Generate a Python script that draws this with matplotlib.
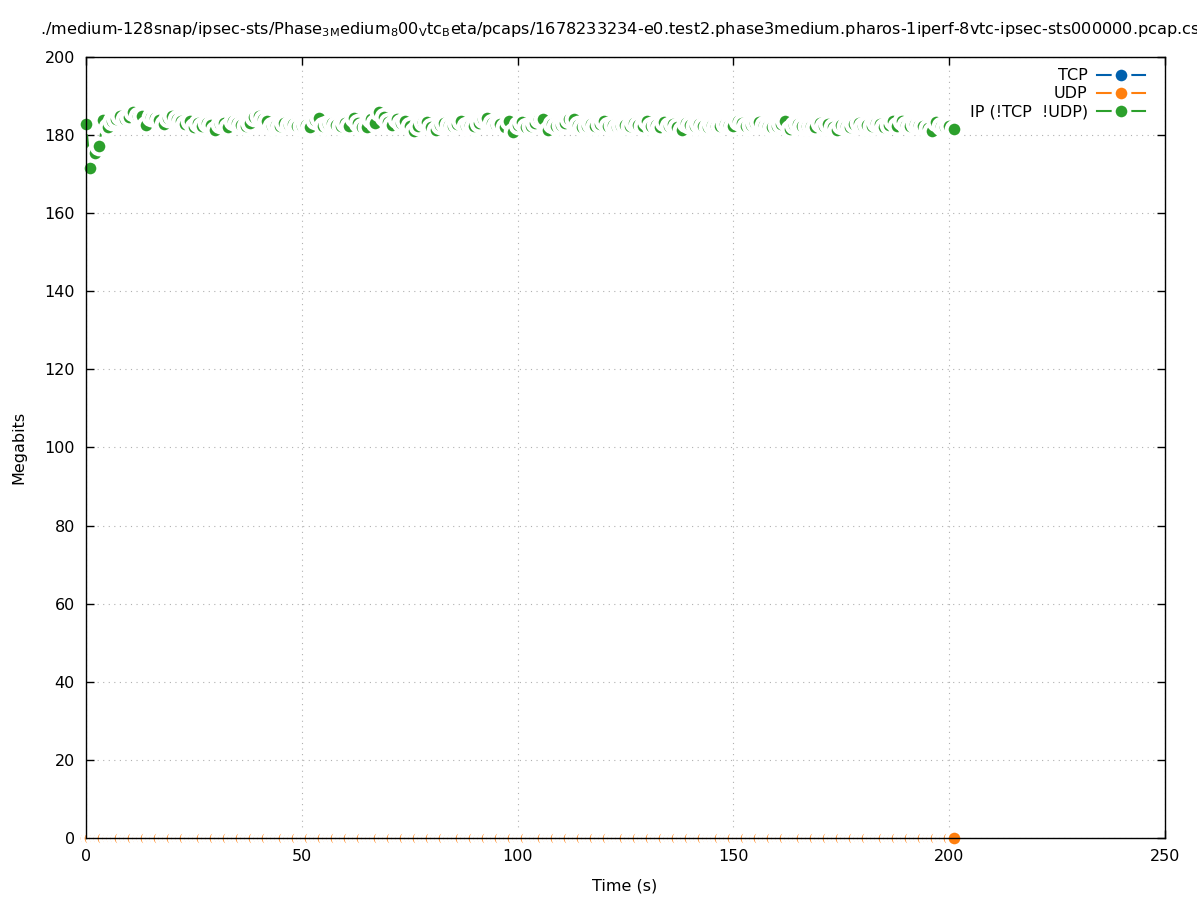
import numpy as np
import matplotlib
matplotlib.use("Agg")
import matplotlib.pyplot as plt
from matplotlib.lines import Line2D

# time in seconds, throughput per interval in Megabits
t = np.arange(0, 202)
ip = [
    182.8, 171.6, 175.4, 177.2, 183.8, 182.0, 183.5, 184.2, 185.0, 184.0,
    184.5, 186.0, 184.8, 185.0, 182.6, 184.6, 184.3, 183.9, 182.8, 184.4,
    185.0, 184.2, 183.6, 182.8, 183.6, 182.0, 183.2, 182.4, 183.0, 182.6,
    181.3, 182.9, 183.1, 182.0, 183.6, 183.2, 182.5, 182.3, 183.0, 184.6,
    185.0, 184.0, 183.6, 182.2, 182.5, 182.4, 183.0, 182.6, 182.8, 182.2,
    182.4, 182.7, 182.0, 183.8, 184.4, 182.2, 182.9, 183.1, 182.5, 182.3,
    183.0, 182.4, 184.4, 183.1, 182.1, 182.0, 184.0, 183.0, 186.0, 184.6,
    183.4, 182.6, 184.0, 183.2, 183.6, 182.4, 181.0, 182.2, 183.4, 183.3,
    182.0, 181.3, 182.6, 183.0, 182.5, 182.2, 182.9, 183.6, 182.4, 182.6,
    182.3, 183.0, 184.0, 184.4, 183.2, 182.5, 182.8, 182.0, 183.7, 180.8,
    182.6, 183.3, 182.0, 182.4, 183.0, 184.2, 184.0, 181.3, 182.8, 182.3,
    182.6, 183.0, 184.0, 184.2, 182.6, 182.0, 182.4, 182.8, 182.3, 182.9,
    183.5, 182.4, 182.6, 182.1, 182.4, 182.7, 182.2, 183.0, 182.5, 182.3,
    183.6, 182.2, 182.5, 182.0, 183.3, 182.4, 182.8, 182.0, 181.3, 183.0,
    182.6, 182.2, 182.9, 182.4, 182.0, 182.6, 182.3, 182.4, 182.8, 182.5,
    182.2, 183.6, 183.0, 182.2, 182.7, 183.2, 183.4, 182.6, 182.3, 182.0,
    182.4, 182.9, 183.6, 181.6, 182.5, 182.8, 182.3, 182.2, 182.4, 182.0,
    183.0, 182.4, 182.8, 182.0, 181.3, 182.6, 182.4, 182.1, 182.8, 183.2,
    182.3, 182.6, 182.4, 183.0, 182.8, 182.0, 182.6, 183.6, 182.4, 183.6,
    182.6, 182.2, 182.9, 182.6, 182.4, 181.8, 181.0, 183.3, 182.2, 182.0,
    182.4, 181.6,
]
tcp = [0.0] * len(t)
udp = [0.0] * len(t)

labels = ['TCP', 'UDP', 'IP (!TCP  !UDP)']
colors = ['#0060ad', '#ff7f0e', '#2ca02c']

title = ('./medium-128snap/ipsec-sts/Phase$_{3M}$edium$_{8}$00$_{V}$tc$_{B}$eta/pcaps/'
         '1678233234-e0.test2.phase3medium.pharos-1iperf-8vtc-ipsec-sts000000.pcap.csv')

plt.rcParams.update({'font.size': 11.5, 'font.family': 'DejaVu Sans',
                     'mathtext.default': 'regular'})
fig = plt.figure(figsize=(11.97, 9), dpi=100)
ax = fig.add_axes([0.0718, 0.0689, 0.9015, 0.8678])

ms = 11.3   # marker diameter (pt)
mew = 2.9   # white ring around each point (pt)
for series, c in zip([tcp, udp, ip], colors):
    ax.plot(t, series, color=c, lw=1.5, zorder=2, clip_on=False)
    ax.plot(t, series, ls='none', marker='o', ms=ms, mfc=c, mec='white',
            mew=mew, zorder=2.2, clip_on=False)

ax.set_xlim(0, 250)
ax.set_ylim(0, 200)
ax.set_xticks(np.arange(0, 251, 50))
ax.set_yticks(np.arange(0, 201, 20))
ax.tick_params(direction='in', length=5.5, width=1, top=True, right=True, pad=8)
ax.grid(True, color='#b0b0b0', ls=(0, (1, 4)), lw=0.8)
ax.set_axisbelow(True)
for s in ax.spines.values():
    s.set_linewidth(1.0)

handles = [Line2D([], [], color=c, lw=1.5, marker='o', ms=ms, mfc=c, mec='white', mew=mew)
           for c in colors]
ax.legend(handles, labels, loc='upper right', bbox_to_anchor=(0.9905, 0.998),
          frameon=False, markerfirst=False, numpoints=1, handlelength=3.0,
          handletextpad=0.6, labelspacing=0.2, borderaxespad=0.2)

fig.text(0.522, 0.967, title, ha='center', va='center', fontsize=11.6)
fig.text(0.522, 0.0156, 'Time (s)', ha='center', va='center')
fig.text(0.016, 0.503, 'Megabits', ha='center', va='center', rotation=90)

fig.savefig('out.png', dpi=100)
